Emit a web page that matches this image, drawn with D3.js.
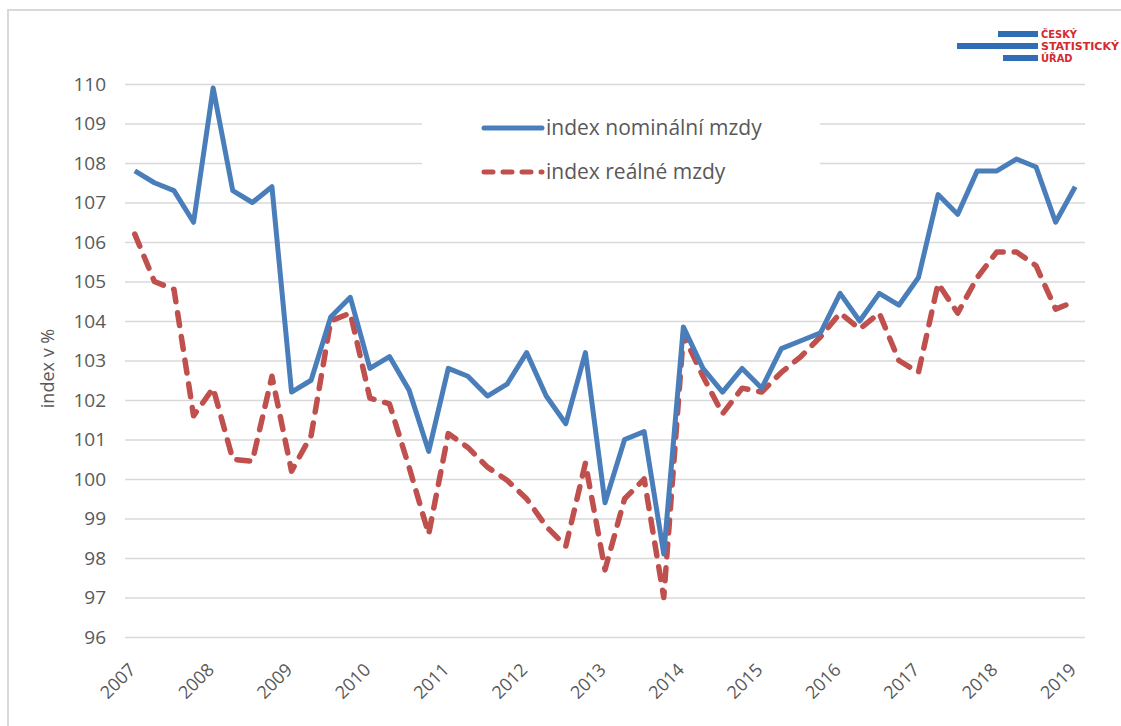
<!DOCTYPE html>
<html>
<head>
<meta charset="utf-8">
<script src="https://cdn.jsdelivr.net/npm/d3@7"></script>
<style>
  body { margin: 0; background: #fff; }
  svg text { font-family: "Open Sans", sans-serif; }
</style>
</head>
<body>
<div id="chart"></div>
<script>
"use strict";

// quarterly data, 2007 Q1 .. 2019 Q1
const years = ["2007", "2008", "2009", "2010", "2011", "2012", "2013",
  "2014", "2015", "2016", "2017", "2018", "2019"];

const quarters = [];
years.forEach((y, k) => {
  const n = k === years.length - 1 ? 1 : 4;
  for (let q = 1; q <= n; q++) quarters.push(y + "Q" + q);
});

const nominal = [107.8, 107.5, 107.3, 106.5, 109.9, 107.3, 107.0, 107.4,
  102.2, 102.5, 104.1, 104.6, 102.8, 103.1, 102.25, 100.7,
  102.8, 102.6, 102.1, 102.4, 103.2, 102.1, 101.4, 103.2,
  99.4, 101.0, 101.2, 98.1, 103.85, 102.8, 102.2, 102.8,
  102.3, 103.3, 103.5, 103.7, 104.7, 104.0, 104.7, 104.4,
  105.1, 107.2, 106.7, 107.8, 107.8, 108.1, 107.9, 106.5, 107.4];

const real = [106.2, 105.0, 104.8, 101.6, 102.3, 100.5, 100.45, 102.6,
  100.2, 101.1, 104.0, 104.2, 102.05, 101.9, 100.3, 98.6,
  101.15, 100.8, 100.3, 99.97, 99.5, 98.8, 98.3, 100.4,
  97.7, 99.5, 100.0, 97.0, 103.65, 102.6, 101.65, 102.3,
  102.2, 102.7, 103.1, 103.6, 104.2, 103.8, 104.2, 103.0,
  102.7, 104.95, 104.2, 105.1, 105.75, 105.75, 105.4, 104.3, 104.5];

const yTicks = d3.range(96, 111, 1);
const seriesNames = ["index nominální mzdy", "index reálné mzdy"];
const logoLines = ["ČESKÝ", "STATISTICKÝ", "ÚŘAD"];

const W = 1121, H = 726;
const plot = { left: 125, right: 1085, top: 84, bottom: 637 };
const textColour = "#595959",
  gridColour = "#d9d9d9",
  blue = "#4a7ebb",
  red = "#c0504d";

const svg = d3.select("#chart")
  .append("svg")
  .attr("width", W)
  .attr("height", H)
  .attr("viewBox", [0, 0, W, H]);

svg.append("rect").attr("width", W).attr("height", H).attr("fill", "#fff");

// outer frame of the chart box
svg.append("path")
  .attr("d", `M8,${H} V10 H${W}`)
  .attr("fill", "none")
  .attr("stroke", gridColour)
  .attr("stroke-width", 2);

const x = d3.scaleBand()
  .domain(quarters)
  .range([plot.left, plot.right]);

const cx = (q) => x(q) + x.bandwidth() / 2;

const y = d3.scaleLinear()
  .domain([96, 110])
  .range([plot.bottom, plot.top]);

// gridlines + y labels
const yAxis = d3.axisLeft(y)
  .tickValues(yTicks)
  .tickSize(-(plot.right - plot.left))
  .tickPadding(19)
  .tickFormat(d3.format("d"));

const gy = svg.append("g")
  .attr("transform", `translate(${plot.left},0)`)
  .call(yAxis);
gy.select(".domain").remove();
gy.selectAll(".tick line")
  .attr("stroke", gridColour)
  .attr("stroke-width", 1.6);
gy.selectAll(".tick text")
  .attr("fill", textColour)
  .style("font-size", "19px");

svg.append("text")
  .attr("transform", `translate(54,${(plot.top + plot.bottom) / 2 + 8}) rotate(-90)`)
  .attr("text-anchor", "middle")
  .attr("fill", textColour)
  .style("font-size", "18px")
  .text("index v %");

// x labels: only first quarter of each year
const xAxis = svg.append("g").attr("class", "x-labels");
xAxis.selectAll("text")
  .data(quarters.filter((q) => q.endsWith("Q1")))
  .join("text")
  .attr("transform", (q) => `translate(${cx(q) + 2},${plot.bottom + 34}) rotate(-45)`)
  .attr("text-anchor", "end")
  .attr("fill", textColour)
  .style("font-size", "18px")
  .text((q) => q.slice(0, 4));

// legend (white box hides gridlines)
const legend = svg.append("g");
legend.append("rect")
  .attr("x", 422).attr("y", 100)
  .attr("width", 398).attr("height", 92)
  .attr("fill", "#fff");

const legendRows = [
  { name: seriesNames[0], colour: blue, dash: null, y: 128 },
  { name: seriesNames[1], colour: red, dash: "9,10", y: 172 },
];
legendRows.forEach((r) => {
  legend.append("line")
    .attr("x1", 484).attr("x2", 542)
    .attr("y1", r.y).attr("y2", r.y)
    .attr("stroke", r.colour)
    .attr("stroke-width", 5)
    .attr("stroke-linecap", "round")
    .attr("stroke-dasharray", r.dash);
  legend.append("text")
    .attr("x", 546).attr("y", r.y + 7)
    .attr("fill", textColour)
    .style("font-size", "21px")
    .text(r.name);
});

// lines
const line = d3.line()
  .x((d, i) => cx(quarters[i]))
  .y((d) => y(d));

svg.append("path")
  .datum(real)
  .attr("fill", "none")
  .attr("stroke", red)
  .attr("stroke-width", 5.5)
  .attr("stroke-linecap", "round")
  .attr("stroke-linejoin", "round")
  .attr("stroke-dasharray", "13,11")
  .attr("d", line);

svg.append("path")
  .datum(nominal)
  .attr("fill", "none")
  .attr("stroke", blue)
  .attr("stroke-width", 5)
  .attr("stroke-linejoin", "round")
  .attr("d", line);

// ČSÚ logo, top right
const logo = svg.append("g");
const logoBlue = "#2f6db5", logoRed = "#d42a31";
[[998, 31], [957, 43], [1003, 55]].forEach(([bx, by]) => {
  logo.append("rect")
    .attr("x", bx).attr("y", by)
    .attr("width", 1038 - bx).attr("height", 6)
    .attr("fill", logoBlue);
});
logoLines.forEach((t, i) => {
  const txt = logo.append("text")
    .attr("x", 1041)
    .attr("y", 38 + i * 12)
    .attr("fill", logoRed)
    .style("font-family", "'Liberation Sans Narrow', 'DejaVu Sans Condensed', sans-serif")
    .style("font-weight", "bold")
    .style("font-size", "11px")
    .text(t);
  if (t.length > 8) txt.attr("textLength", 78).attr("lengthAdjust", "spacingAndGlyphs");
});
</script>
</body>
</html>
